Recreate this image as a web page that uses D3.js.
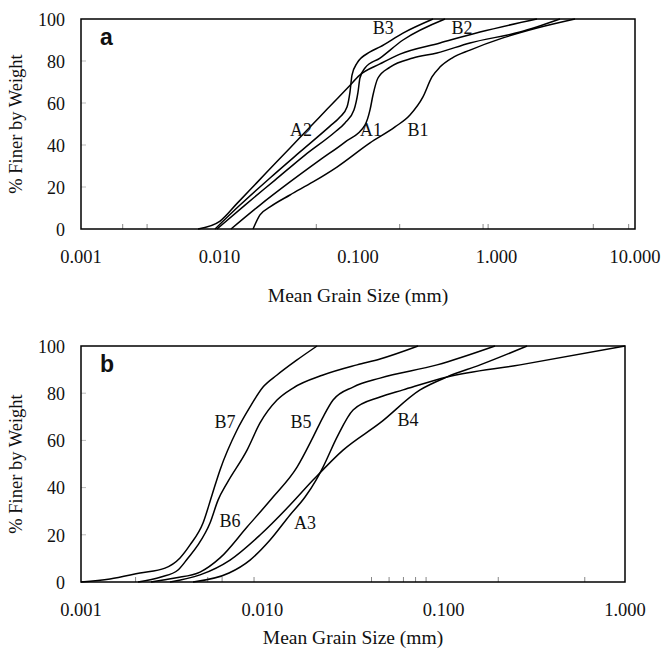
<!DOCTYPE html>
<html>
<head>
<meta charset="utf-8">
<script src="https://cdn.jsdelivr.net/npm/d3@7"></script>
<style>
body { margin: 0; background: #fff; }
text { font-family: "Liberation Serif", "Times New Roman", serif; fill: #111; }
</style>
</head>
<body>
<svg width="662" height="651"></svg>
<script>
// tick values
var xTicksA = [0.001, 0.01, 0.1, 1, 10];
var xTicksB = [0.001, 0.01, 0.1, 1];
var yTicks = [0, 20, 40, 60, 80, 100];
var minorTicksA = [0.002, 0.003, 0.05, 0.2, 0.8, 0.87, 5, 9];
var minorTicksB = [0.002, 0.005, 0.006, 0.009, 0.04, 0.05, 0.06, 0.07, 0.08, 0.2, 0.6];

// panel a : [grain size mm, % finer]
var seriesA1 = [[0.01211,0],[0.0196,11.4],[0.03228,22.4],[0.05317,32.9],[0.08054,41.4],[0.1123,49.5],[0.1221,56.7],[0.1283,63.8],[0.1394,71.9],[0.1703,77.1],[0.2494,81.4],[0.3719,83.8],[0.6436,88.6],[1.479,93.8],[2.873,100]];
var seriesA2 = [[0.0070,0],[0.0101,3.8],[0.0134,12.2],[0.0187,22.2],[0.0260,32.1],[0.0323,38.6],[0.0465,49.5],[0.0597,57.0],[0.0846,67.4],[0.103,73.3],[0.144,78.6],[0.201,83.3],[0.391,88.6],[0.760,93.8],[1.96,100]];
var seriesB1 = [[0.01746,0],[0.0196,6.7],[0.02316,10.5],[0.03228,16.2],[0.04732,22.4],[0.07049,29.5],[0.1221,41.0],[0.185,48.6],[0.2373,54.3],[0.2945,62.9],[0.342,72.4],[0.3908,77.1],[0.4772,81.4],[0.6436,85.2],[1.114,91.0],[1.961,95.7],[3.69,100]];
var seriesB2 = [[0.00959,0],[0.01528,11.4],[0.02517,23.3],[0.04141,35.2],[0.06823,46.2],[0.08054,50.5],[0.0935,56.7],[0.1,65.2],[0.1033,71.9],[0.1123,76.7],[0.1442,81.4],[0.2113,90.0],[0.4248,100]];
var seriesB3 = [[0.00928,0],[0.01406,11.4],[0.02316,24.3],[0.03811,36.7],[0.06278,49.0],[0.07413,53.3],[0.0833,58.1],[0.0875,65.2],[0.0905,73.3],[0.0984,79.0],[0.1221,84.3],[0.1442,86.7],[0.2113,93.3],[0.348,100]];

// panel b
var seriesB7 = [[0.001,0],[0.001445,1.3],[0.002116,3.8],[0.002906,5.9],[0.003516,10.2],[0.003993,15.7],[0.004709,25.0],[0.00528,36.9],[0.005845,47.5],[0.007253,64.4],[0.008555,74.2],[0.01009,82.6],[0.01205,87.7],[0.01554,94.1],[0.02003,100]];
var seriesB6 = [[0.002063,0],[0.002763,2.1],[0.003428,5.1],[0.003893,10.2],[0.004419,15.7],[0.005147,25.0],[0.005698,34.7],[0.006388,41.9],[0.008236,55.9],[0.009712,67.4],[0.01205,77.1],[0.01477,82.2],[0.02162,87.7],[0.0333,92.0],[0.04459,94.5],[0.07224,100]];
var seriesB5 = [[0.002433,0],[0.0033,1.7],[0.004533,4.2],[0.005845,10.2],[0.008236,23.3],[0.01146,36.0],[0.01554,48.7],[0.01904,61.4],[0.02162,69.9],[0.02455,77.1],[0.03166,82.6],[0.04459,86.4],[0.09196,92.0],[0.192,100]];
var seriesB4 = [[0.003097,0],[0.004533,3.0],[0.006636,9.3],[0.009712,19.9],[0.01421,32.6],[0.01904,43.2],[0.02787,55.9],[0.04459,67.4],[0.0741,81.4],[0.1044,86.9],[0.1588,92.0],[0.2884,100]];
var seriesA3 = [[0.004148,0],[0.006552,3.8],[0.008555,9.3],[0.01103,17.8],[0.01421,28.4],[0.0172,36.0],[0.01978,43.2],[0.02162,48.7],[0.02582,61.4],[0.03166,72.9],[0.04459,78.4],[0.05972,81.4],[0.1044,86.9],[0.2639,92.0],[1.0,100]];

// curve names and where their labels sit (data coords)
var namesA = ["A1", "A2", "B1", "B2", "B3"];
var labelAtA = [[0.124,47.1],[0.0388,47.1],[0.271,47.1],[0.563,95.7],[0.152,95.7]];
var namesB = ["B7", "B6", "B5", "B4", "A3"];
var labelAtB = [[0.00623,67.8],[0.00663,25.8],[0.01635,67.8],[0.0636,68.6],[0.0172,25.0]];

var svg = d3.select("svg");

var drawPanel = function(p)
{
    var g = svg.append("g").attr("transform", "translate("+p.left+","+p.top+")");
    var width = p.right - p.left;
    var height = p.bottom - p.top;

    var xScale = d3.scaleLog().domain(p.domain).range([0, width]);
    var yScale = d3.scaleLinear().domain([0, 100]).range([height, 0]);

    // small inside ticks, light grey like the original
    g.selectAll(".ytick").data(yTicks.slice(1, 5)).enter()
    .append("line")
    .attr("x1", 0).attr("x2", 5)
    .attr("y1", function(d){ return yScale(d); })
    .attr("y2", function(d){ return yScale(d); })
    .attr("stroke", "#bbb").attr("stroke-width", 1);

    g.selectAll(".xtick").data(p.minor).enter()
    .append("line")
    .attr("x1", function(d){ return xScale(d); })
    .attr("x2", function(d){ return xScale(d); })
    .attr("y1", height).attr("y2", height - 5)
    .attr("stroke", "#888").attr("stroke-width", 1);

    var lineGenerator = d3.line()
    .x(function(d){ return xScale(d[0]); })
    .y(function(d){ return yScale(d[1]); })
    .curve(d3.curveMonotoneX);

    g.selectAll(".curve").data(p.series).enter()
    .append("path")
    .attr("d", lineGenerator)
    .attr("fill", "none")
    .attr("stroke", "#000")
    .attr("stroke-width", 1.5);

    g.append("rect")
    .attr("width", width).attr("height", height)
    .attr("fill", "none").attr("stroke", "#000").attr("stroke-width", 1.5);

    g.selectAll(".lbl").data(p.names).enter()
    .append("text")
    .attr("x", function(d, i){ return xScale(p.labelAt[i][0]); })
    .attr("y", function(d, i){ return yScale(p.labelAt[i][1]); })
    .attr("dy", "0.35em")
    .attr("text-anchor", "middle")
    .style("font-size", "18px")
    .text(function(d){ return d; });

    // tick labels
    g.selectAll(".xl").data(p.ticks).enter()
    .append("text")
    .attr("x", function(d){ return xScale(d); })
    .attr("y", height + 34)
    .attr("text-anchor", "middle")
    .style("font-size", "18.5px")
    .text(d3.format(".3f"));

    g.selectAll(".yl").data(yTicks).enter()
    .append("text")
    .attr("x", -16)
    .attr("y", function(d){ return yScale(d); })
    .attr("dy", "0.38em")
    .attr("text-anchor", "end")
    .style("font-size", "18px")
    .text(function(d){ return d; });

    g.append("text")
    .attr("x", width / 2)
    .attr("y", height + p.titleGap)
    .attr("text-anchor", "middle")
    .style("font-size", "19.5px")
    .text("Mean Grain Size (mm)");

    g.append("text")
    .attr("transform", "translate("+(16 - p.left)+","+(height / 2)+") rotate(-90)")
    .attr("dy", "0.35em")
    .attr("text-anchor", "middle")
    .style("font-size", "18.5px")
    .text("% Finer by Weight");

    g.append("text")
    .attr("x", 19).attr("y", 26)
    .style("font-family", "'Liberation Sans', Arial, sans-serif")
    .style("font-weight", "bold")
    .style("font-size", "23px")
    .text(p.tag);
}

drawPanel({left:81, right:635, top:19, bottom:229, domain:[0.001, 10], ticks:xTicksA, minor:minorTicksA,
    series:[seriesA1, seriesA2, seriesB1, seriesB2, seriesB3], names:namesA, labelAt:labelAtA, tag:"a", titleGap:73});
drawPanel({left:81, right:625, top:346, bottom:582, domain:[0.001, 1], ticks:xTicksB, minor:minorTicksB,
    series:[seriesB7, seriesB6, seriesB5, seriesB4, seriesA3], names:namesB, labelAt:labelAtB, tag:"b", titleGap:62});
</script>
</body>
</html>
